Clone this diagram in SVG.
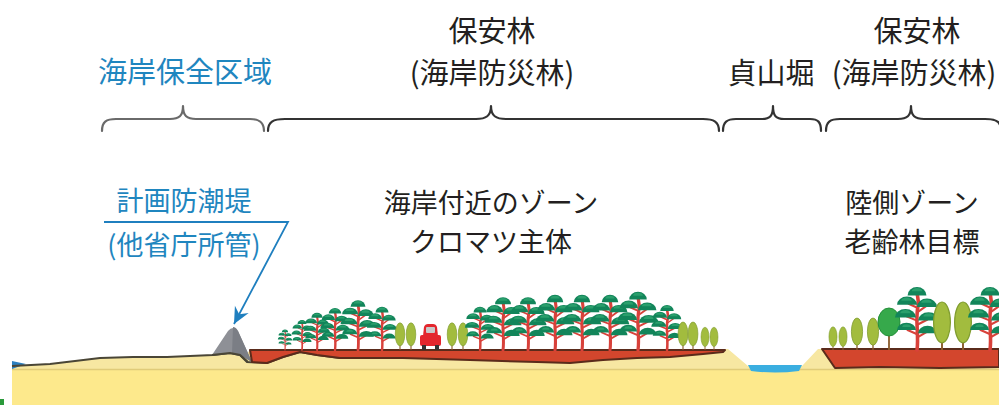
<svg xmlns="http://www.w3.org/2000/svg" xmlns:xlink="http://www.w3.org/1999/xlink" width="999" height="405" viewBox="0 0 999 405">
  <style>
    .lbl { font-family: "Noto Sans CJK JP", "Noto Sans", sans-serif; text-anchor: middle; }
    .big { font-size: 29px; }
    .mid { font-size: 27px; }
    .blue { fill: #1f86bf; }
    .dark { fill: #231f20; }
    .brace { fill: none; stroke-width: 2.2; stroke-linecap: round; stroke-linejoin: round; }
    .pine-trunk { fill: none; stroke: #d8413a; stroke-width: 3.4; stroke-linecap: round; }
    .pine-twig { fill: none; stroke: #d8413a; stroke-width: 2; stroke-linecap: round; }
    .pine-leaf { fill: #12855a; }
    .pine-hi { fill: #2a9f6c; }
    .pop-leaf { fill: #a2bc3e; stroke: #7f9c2e; stroke-width: 1; }
    .pop-trunk { stroke: #8a5b2b; stroke-width: 1.6; }
    .soil { fill: #d3462d; stroke: #5a2b1b; stroke-width: 2; stroke-linejoin: round; }
  </style>
  <defs>
    <!-- black pine, base at origin, 60 units tall -->
    <g id="pine">
      <path class="pine-trunk" d="M0,0 C2,-14 -2,-28 1,-42 C2,-48 0,-52 0,-55"/>
      <path class="pine-twig" d="M0.8,-40 L-8,-44 M0.6,-36 L9,-42 M0,-28 L-10,-32 M0.3,-24 L10,-29 M0.2,-15 L-9,-19 M0.4,-12 L9,-17"/>
      <path class="pine-leaf" d="M-9,-52 A9,8 0 0 1 9,-52 Z"/>
      <path class="pine-leaf" d="M-19,-43 A9.5,8 0 0 1 0,-43 Z"/>
      <path class="pine-leaf" d="M0,-41 A9.5,8 0 0 1 19,-41 Z"/>
      <path class="pine-leaf" d="M-21,-31 A10,8 0 0 1 -1,-31 Z"/>
      <path class="pine-leaf" d="M1,-28 A10,8 0 0 1 21,-28 Z"/>
      <path class="pine-leaf" d="M-19,-19 A9,7 0 0 1 -1,-19 Z"/>
      <path class="pine-leaf" d="M1,-16 A9,7 0 0 1 19,-16 Z"/>
      <path class="pine-hi" d="M-5,-56 A5,3 0 0 1 5,-56 Z M-15,-47 A5,3 0 0 1 -5,-47 Z M4,-45 A5,3 0 0 1 14,-45 Z M-16,-35 A5,3 0 0 1 -6,-35 Z M6,-32 A5,3 0 0 1 16,-32 Z M-14,-22 A4,2.5 0 0 1 -6,-22 Z"/>
    </g>
    <!-- poplar, base at origin, 40 units tall -->
    <g id="poplar">
      <line class="pop-trunk" x1="0" y1="0" x2="0" y2="-12"/>
      <ellipse class="pop-leaf" cx="0" cy="-23" rx="7" ry="17"/>
    </g>
    <marker id="arrowhead" markerUnits="userSpaceOnUse" markerWidth="20" markerHeight="20" viewBox="-16 -8 18 16" refX="0" refY="0" orient="auto">
      <path d="M0,0 L-15,-7 L-10,0 L-15,7 Z" fill="#1f7fbf"/>
    </marker>
  </defs>

  <rect width="999" height="405" fill="#ffffff"/>

  <!-- ground -->
  <g id="ground">
    <path d="M12,366 L50,364 L100,358 L133,357 L167,357 L213,355 L230,353 L245,356 L250,350 L728,349 L748,366 L802,366 L818,349 L999,349 L999,405 L12,405 Z" fill="#f7e7a2"/>
    <rect x="12" y="370" width="987" height="35" fill="#fde98c"/>
    <line x1="12" y1="369.5" x2="999" y2="369.5" stroke="#e0cb7a" stroke-width="1.5"/>
    <path d="M12,361 L26,364 L12,369 Z" fill="#2c7fbf"/>
    <path d="M12,366 L50,364 L100,358 L133,357 L167,357 L213,355 L230,353 L240,355 L247,362 L267,363 L283,357 L300,352 L317,355 L340,358" fill="none" stroke="#4a4636" stroke-width="2"/>
    <rect x="0" y="399" width="4" height="6" fill="#2a9a3a"/>
  </g>

  <!-- seawall -->
  <g id="seawall">
    <path d="M212,355 L228,331 Q233,325 238,331 L252,362 L240,355 L230,353 Z" fill="#8e9096"/>
    <path d="M233,327 Q236,327 238,331 L252,362 L240,355 L232,353 Z" fill="#7b7e85"/>
    <path d="M212,355 L230,353 L240,355 L248,362" fill="none" stroke="#4a4636" stroke-width="2"/>
  </g>

  <!-- forest soil (seaward) -->
  <g id="soil-front">
    <path class="soil" d="M250,350 L725,350 L723,352 L703,354 L670,357 L637,358 L603,360 L570,363 L537,362 L470,360 L403,358 L340,358 L317,355 L300,352 L283,357 L267,363 L252,362 Z"/>
  </g>

  <!-- canal -->
  <g id="canal">
    <path d="M748,365 L802,365 L799,371 Q775,374 751,371 Z" fill="#3aaee0"/>
  </g>

  <!-- forest soil (landward) -->
  <g id="soil-back">
    <path class="soil" d="M822,349 L999,349 L999,367 L940,368 L880,367 L835,368 Z"/>
  </g>

  <!-- seaward trees -->
  <g id="trees-front">
    <use xlink:href="#pine" transform="translate(285,350) scale(0.34)"/>
    <use xlink:href="#pine" transform="translate(302,350) scale(0.5)"/>
    <use xlink:href="#pine" transform="translate(317,350) scale(0.62)"/>
    <use xlink:href="#pine" transform="translate(335,350) scale(0.7)"/>
    <use xlink:href="#pine" transform="translate(358,350) scale(0.83)"/>
    <use xlink:href="#pine" transform="translate(382,350) scale(0.72)"/>
    <use xlink:href="#poplar" transform="translate(400,350) scale(0.68)"/>
    <use xlink:href="#poplar" transform="translate(411,350) scale(0.68)"/>
    <use xlink:href="#poplar" transform="translate(452,350) scale(0.68)"/>
    <use xlink:href="#poplar" transform="translate(463,350) scale(0.68)"/>
    <use xlink:href="#pine" transform="translate(480,350) scale(0.72)"/>
    <use xlink:href="#pine" transform="translate(503,350) scale(0.88)"/>
    <use xlink:href="#pine" transform="translate(528,350) scale(0.88)"/>
    <use xlink:href="#pine" transform="translate(555,350) scale(0.92)"/>
    <use xlink:href="#pine" transform="translate(582,350) scale(0.92)"/>
    <use xlink:href="#pine" transform="translate(610,350) scale(0.92)"/>
    <use xlink:href="#pine" transform="translate(638,350) scale(0.97)"/>
    <use xlink:href="#pine" transform="translate(667,350) scale(0.75)"/>
    <use xlink:href="#poplar" transform="translate(683,350) scale(0.7)"/>
    <use xlink:href="#poplar" transform="translate(693,350) scale(0.7)"/>
    <use xlink:href="#poplar" transform="translate(705,350) scale(0.57)"/>
    <use xlink:href="#poplar" transform="translate(714,350) scale(0.57)"/>
  </g>

  <!-- car on the forest road -->
  <g id="car">
    <path d="M423,336 L424,327 Q425,324 428,324 L433,324 Q436,324 437,327 L438,336 Z" fill="#e3262d"/>
    <rect x="426" y="327" width="9" height="6" rx="1" fill="#c9c9c9"/>
    <rect x="420" y="335" width="21" height="11" rx="2" fill="#e3262d"/>
    <rect x="422" y="345" width="4" height="5" fill="#333"/>
    <rect x="435" y="345" width="4" height="5" fill="#333"/>
  </g>

  <!-- landward trees -->
  <g id="trees-back">
    <use xlink:href="#poplar" transform="translate(833,350) scale(0.58)"/>
    <use xlink:href="#poplar" transform="translate(843,350) scale(0.58)"/>
    <use xlink:href="#poplar" transform="translate(857,350) scale(0.8)"/>
    <use xlink:href="#poplar" transform="translate(873,350) scale(0.8)"/>
    <line x1="889" y1="350" x2="889" y2="334" stroke="#8a5b2b" stroke-width="1.8"/>
    <ellipse cx="889" cy="322" rx="11" ry="14" fill="#36a94b" stroke="#25903a" stroke-width="1"/>
    <use xlink:href="#pine" transform="translate(917,350) scale(1.05)"/>
    <use xlink:href="#poplar" transform="translate(942,350) scale(1.2)"/>
    <use xlink:href="#poplar" transform="translate(963,350) scale(1.2)"/>
    <use xlink:href="#pine" transform="translate(990,350) scale(1.05)"/>
  </g>

  <!-- zone headings -->
  <g id="zone-coast">
    <text class="lbl big blue" x="185" y="83">海岸保全区域</text>
    <path class="brace" stroke="#6a6a6a" d="M102,131 C102,122 106,119 116,119 L170,119 C179,119 183,116 183,106 C183,116 187,119 196,119 L250,119 C259,119 264,122 264,131"/>
  </g>
  <g id="zone-forest-front">
    <text class="lbl big dark" x="492" y="42">保安林</text>
    <text class="lbl big dark" x="492" y="84">(海岸防災林)</text>
    <path class="brace" stroke="#333333" d="M268,131 C268,122 273,119 285,119 L476,119 C486,119 491,116 491,106 C491,116 496,119 506,119 L703,119 C714,119 719,122 719,131"/>
  </g>
  <g id="zone-canal">
    <text class="lbl big dark" x="771" y="84">貞山堀</text>
    <path class="brace" stroke="#333333" d="M723,131 C723,122 727,119 736,119 L762,119 C770,119 773,116 773,106 C773,116 776,119 784,119 L810,119 C818,119 821,122 821,131"/>
  </g>
  <g id="zone-forest-back">
    <text class="lbl big dark" x="917" y="42">保安林</text>
    <text class="lbl big dark" x="914" y="84">(海岸防災林)</text>
    <path class="brace" stroke="#333333" d="M826,131 C826,122 830,119 840,119 L898,119 C907,119 911,116 911,106 C911,116 915,119 924,119 L985,119 C995,119 999,121 1000,125"/>
  </g>

  <!-- zone notes -->
  <g id="note-seawall">
    <text class="lbl mid blue" x="184" y="211">計画防潮堤</text>
    <text class="lbl mid blue" x="184" y="255">(他省庁所管)</text>
  </g>
  <g id="note-front">
    <text class="lbl mid dark" x="491" y="213">海岸付近のゾーン</text>
    <text class="lbl mid dark" x="491" y="252">クロマツ主体</text>
  </g>
  <g id="note-back">
    <text class="lbl mid dark" x="912" y="213">陸側ゾーン</text>
    <text class="lbl mid dark" x="912" y="252">老齢林目標</text>
  </g>

  <!-- connectors -->
  <g id="connectors">
    <path d="M104,222 L288,222 L234,324" fill="none" stroke="#1f7fbf" stroke-width="1.8" marker-end="url(#arrowhead)"/>
  </g>
</svg>
